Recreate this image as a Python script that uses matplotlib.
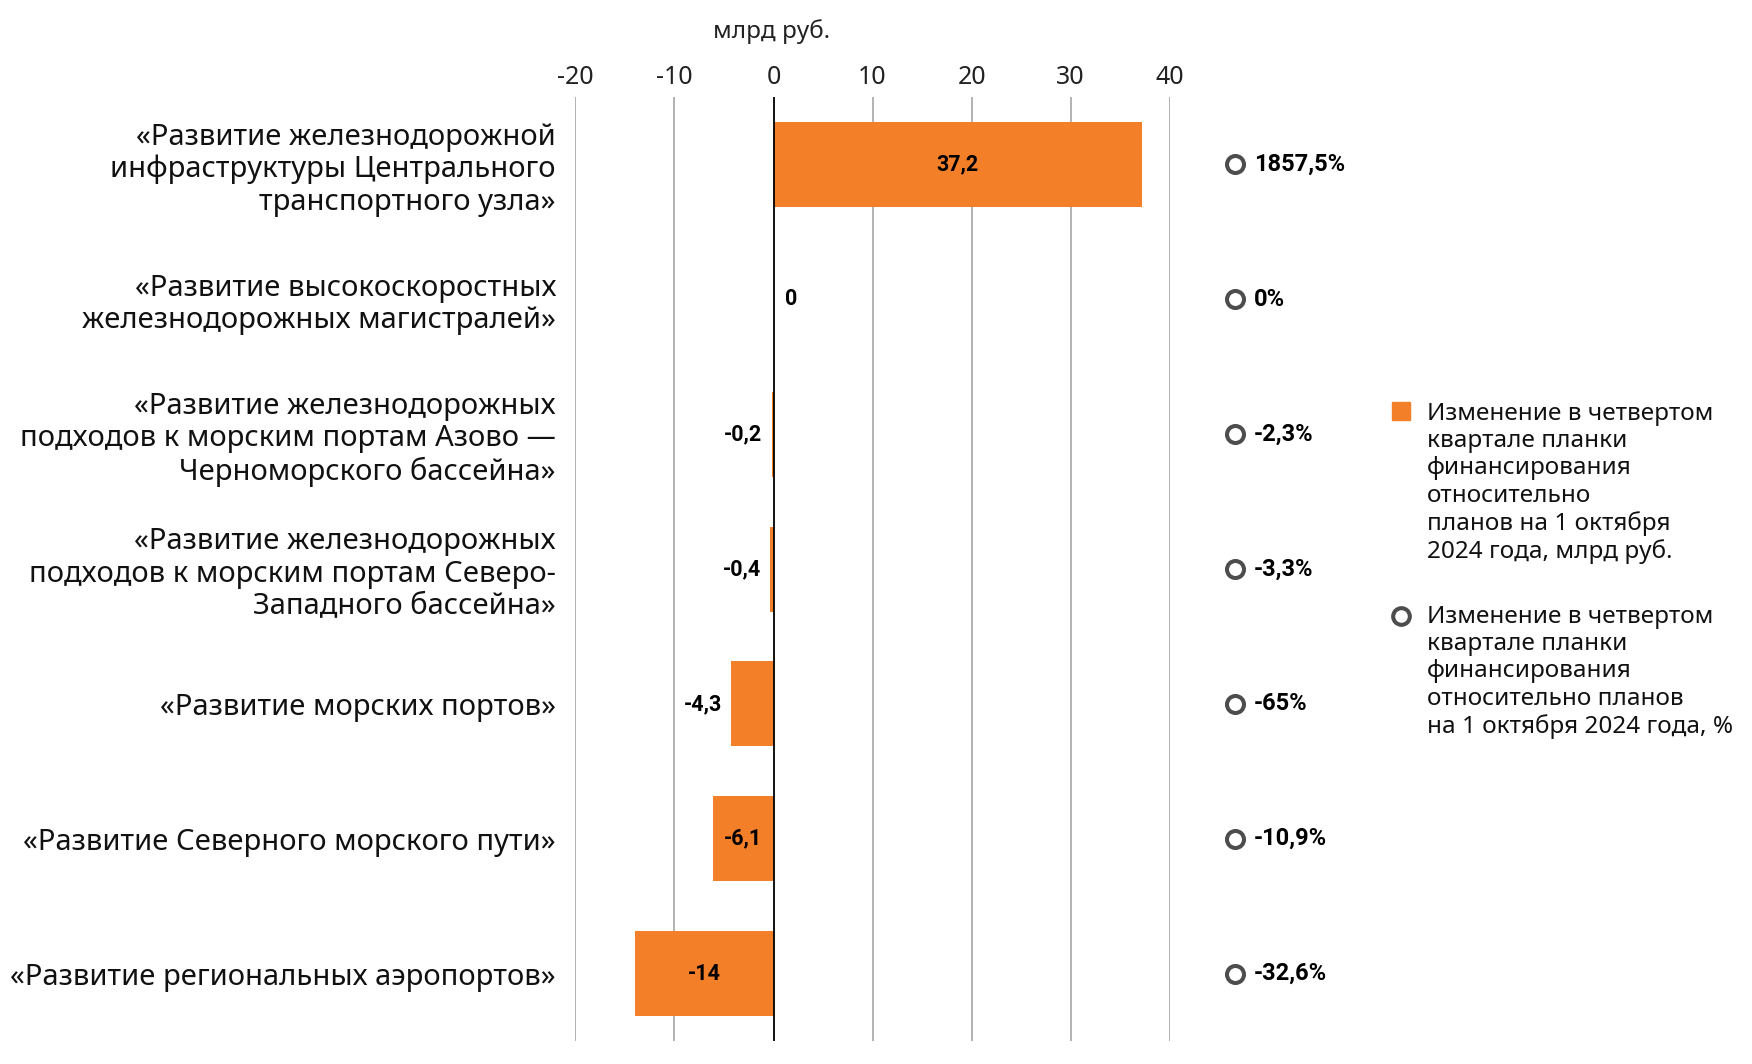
import matplotlib
matplotlib.use("Agg")
import matplotlib.pyplot as plt
import matplotlib.transforms as mtransforms
from matplotlib.patches import Rectangle
from matplotlib.lines import Line2D

plt.rcParams['font.family'] = ['Noto Sans', 'DejaVu Sans']
plt.rcParams['axes.unicode_minus'] = False

categories = [
    "«Развитие железнодорожной\nинфраструктуры Центрального\nтранспортного узла»",
    "«Развитие высокоскоростных\nжелезнодорожных магистралей»",
    "«Развитие железнодорожных\nподходов к морским портам Азово —\nЧерноморского бассейна»",
    "«Развитие железнодорожных\nподходов к морским портам Северо-\nЗападного бассейна»",
    "«Развитие морских портов»",
    "«Развитие Северного морского пути»",
    "«Развитие региональных аэропортов»",
]
change_bln = [37.2, 0, -0.2, -0.4, -4.3, -6.1, -14]
change_pct = [1857.5, 0, -2.3, -3.3, -65, -10.9, -32.6]
x_ticks = [-20, -10, 0, 10, 20, 30, 40]
unit_label = "млрд руб."
legend_bar = ("Изменение в четвертом\nквартале планки\nфинансирования\nотносительно\n"
              "планов на 1 октября\n2024 года, млрд руб.")
legend_pct = ("Изменение в четвертом\nквартале планки\nфинансирования\n"
              "относительно планов\nна 1 октября 2024 года, %")

ORANGE = "#F47F29"
GRID = "#A6A6A6"
CIRCLE = "#4D4D4D"
BOLD_FAMILY = ['Roboto', 'DejaVu Sans']


def fmt(v):
    s = f"{v:g}"
    return s.replace(".", ",")


fig = plt.figure(figsize=(17.52, 10.64), dpi=100)
ax = fig.add_axes([0.3284, 0.0216, 0.6677 - 0.3284, 0.9088 - 0.0216])

ypos = list(range(len(categories)))
ax.barh(ypos, change_bln, height=0.63, color=ORANGE, zorder=3)

ax.set_xlim(-20, 40)
ax.set_ylim(6.5, -0.5)
ax.set_xticks(x_ticks)
ax.set_xticklabels([str(t) for t in x_ticks])
ax.xaxis.tick_top()
ax.tick_params(axis='x', length=0, pad=5, labelsize=18, labelcolor="#222222")
ax.set_yticks(ypos)
ax.set_yticklabels(categories, fontsize=21, linespacing=1.15, color="#111111")
ax.tick_params(axis='y', length=0, pad=14)
for lab in ax.get_yticklabels():
    lab.set_multialignment('right')

for s in ax.spines.values():
    s.set_visible(False)
for t in x_ticks:
    if t == 0:
        ax.axvline(t, color="black", lw=1.3, zorder=4)
    else:
        ax.axvline(t, color=GRID, lw=1.2, zorder=1)

# value labels
for y, v in zip(ypos, change_bln):
    kw = dict(va='center', fontsize=15.5, fontweight='bold', family=BOLD_FAMILY, zorder=5)
    if abs(v) >= 5:
        ax.text(v / 2, y, fmt(v), ha='center', **kw)
    elif v == 0:
        ax.text(1.2, y, fmt(v), ha='left', **kw)
    else:
        ax.text(v - 0.9, y, fmt(v), ha='right', **kw)

# percent markers
trans = mtransforms.blended_transform_factory(ax.transAxes, ax.transData)
ax.scatter([1.109] * len(ypos), ypos, transform=trans, s=150, facecolor='white',
           edgecolor=CIRCLE, linewidth=2.9, clip_on=False, zorder=5)
for y, p in zip(ypos, change_pct):
    ax.text(1.142, y, fmt(p) + "%", transform=trans, ha='left', va='center',
            fontsize=17, fontweight='bold', family=BOLD_FAMILY, clip_on=False)

# unit label
fig.text(772 / 1752, 1 - 32 / 1064, unit_label, ha='center', va='center',
         fontsize=17.5, color="#222222")

# legend (manual)
W, H = 1752, 1064
fig.patches.append(Rectangle((1392 / W, 1 - 420 / H), 18 / W, 18 / H,
                             transform=fig.transFigure, color=ORANGE))
fig.text(1427 / W, 1 - 402 / H, legend_bar, ha='left', va='top', fontsize=17.5,
         linespacing=1.18, color="#111111")
fig.add_artist(Line2D([1401 / W], [1 - 616 / H], marker='o', markersize=12,
                      markerfacecolor='white', markeredgecolor=CIRCLE,
                      markeredgewidth=2.9, transform=fig.transFigure))
fig.text(1427 / W, 1 - 605 / H, legend_pct, ha='left', va='top', fontsize=17.5,
         linespacing=1.18, color="#111111")

fig.savefig("out.png", dpi=100, facecolor='white')
